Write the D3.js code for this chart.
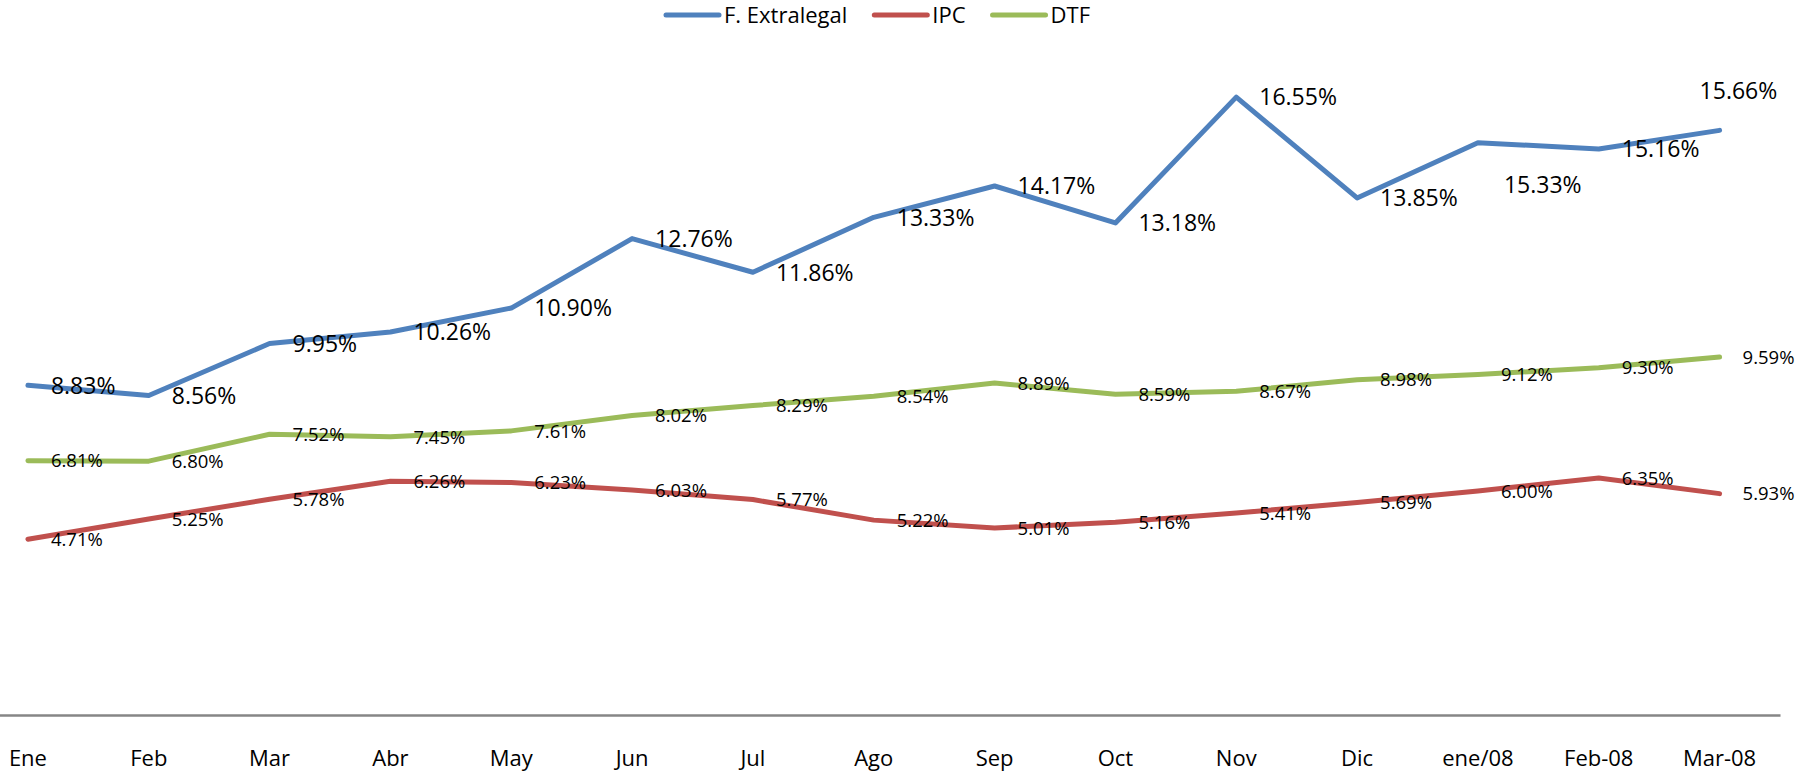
<!DOCTYPE html>
<html>
<head>
<meta charset="utf-8">
<script src="https://cdn.jsdelivr.net/npm/d3@7"></script>
<style>
  body { margin: 0; background: #fff; }
  text { font-family: "Open Sans", "Noto Sans", sans-serif; fill: #000; }
</style>
</head>
<body>
<script>
// Data
var months = ["Ene", "Feb", "Mar", "Abr", "May", "Jun", "Jul", "Ago", "Sep", "Oct", "Nov", "Dic", "ene/08", "Feb-08", "Mar-08"];
var extralegal = [8.83, 8.56, 9.95, 10.26, 10.90, 12.76, 11.86, 13.33, 14.17, 13.18, 16.55, 13.85, 15.33, 15.16, 15.66];
var ipc = [4.71, 5.25, 5.78, 6.26, 6.23, 6.03, 5.77, 5.22, 5.01, 5.16, 5.41, 5.69, 6.00, 6.35, 5.93];
var dtf = [6.81, 6.80, 7.52, 7.45, 7.61, 8.02, 8.29, 8.54, 8.89, 8.59, 8.67, 8.98, 9.12, 9.30, 9.59];

var width = 1818, height = 775;

var series = [
    {name: "F. Extralegal", values: extralegal, color: "#4F81BD", labelSize: 23},
    {name: "IPC", values: ipc, color: "#C0504D", labelSize: 18.5},
    {name: "DTF", values: dtf, color: "#9BBB59", labelSize: 18.5}
];

// a couple of labels were dragged by hand in the original
var labelNudge = {"F. Extralegal": {12: [3, 42], 14: [-43, -40]}};

var svg = d3.select("body").append("svg")
    .attr("width", width)
    .attr("height", height);

// Scales (plot area starts left of the visible picture)
var x = d3.scaleBand()
    .domain(months)
    .range([-32.5, 1780]);

var y = d3.scaleLinear()
    .domain([0, 18])
    .range([715, 43]);

var cx = d => x(d) + x.bandwidth() / 2;

// X axis
var xAxis = svg.append("g")
    .attr("transform", "translate(0,715)")
    .call(d3.axisBottom(x).tickSize(0).tickPadding(35));

xAxis.select(".domain")
    .attr("stroke", "#868686")
    .attr("stroke-width", 2.5);

xAxis.selectAll("text")
    .style("font-family", "'Open Sans', sans-serif")
    .style("font-size", "22px")
    .attr("fill", "#000");

// Lines
var line = d3.line()
    .x((d, i) => cx(months[i]))
    .y(d => y(d));

series.forEach(s => {
    svg.append("path")
        .datum(s.values)
        .attr("d", line)
        .attr("fill", "none")
        .attr("stroke", s.color)
        .attr("stroke-width", 5)
        .attr("stroke-linejoin", "round")
        .attr("stroke-linecap", "round");
});

// Data labels, placed to the right of each point
series.forEach(s => {
    var nudge = labelNudge[s.name] || {};
    svg.append("g").selectAll("text")
        .data(s.values)
        .enter().append("text")
        .attr("x", (d, i) => cx(months[i]) + 23 + (nudge[i] ? nudge[i][0] : 0))
        .attr("y", (d, i) => y(d) + (nudge[i] ? nudge[i][1] : 0))
        .attr("dy", "0.36em")
        .style("font-size", s.labelSize + "px")
        .text(d => d.toFixed(2) + "%");
});

// Legend
var legend = svg.append("g");
var lx = 0;
series.forEach((s, i) => {
    var item = legend.append("g").attr("transform", "translate(" + lx + ",0)");
    item.append("line")
        .attr("x1", 0).attr("x2", 53)
        .attr("stroke", s.color)
        .attr("stroke-width", 5)
        .attr("stroke-linecap", "round");
    var t = item.append("text")
        .attr("x", 58)
        .attr("dy", "0.36em")
        .style("font-size", "22px")
        .text(s.name);
    lx += 58 + t.node().getComputedTextLength() + 27;
});
lx -= 27;
legend.attr("transform", "translate(" + (878 - lx / 2) + ",15)");
</script>
</body>
</html>
